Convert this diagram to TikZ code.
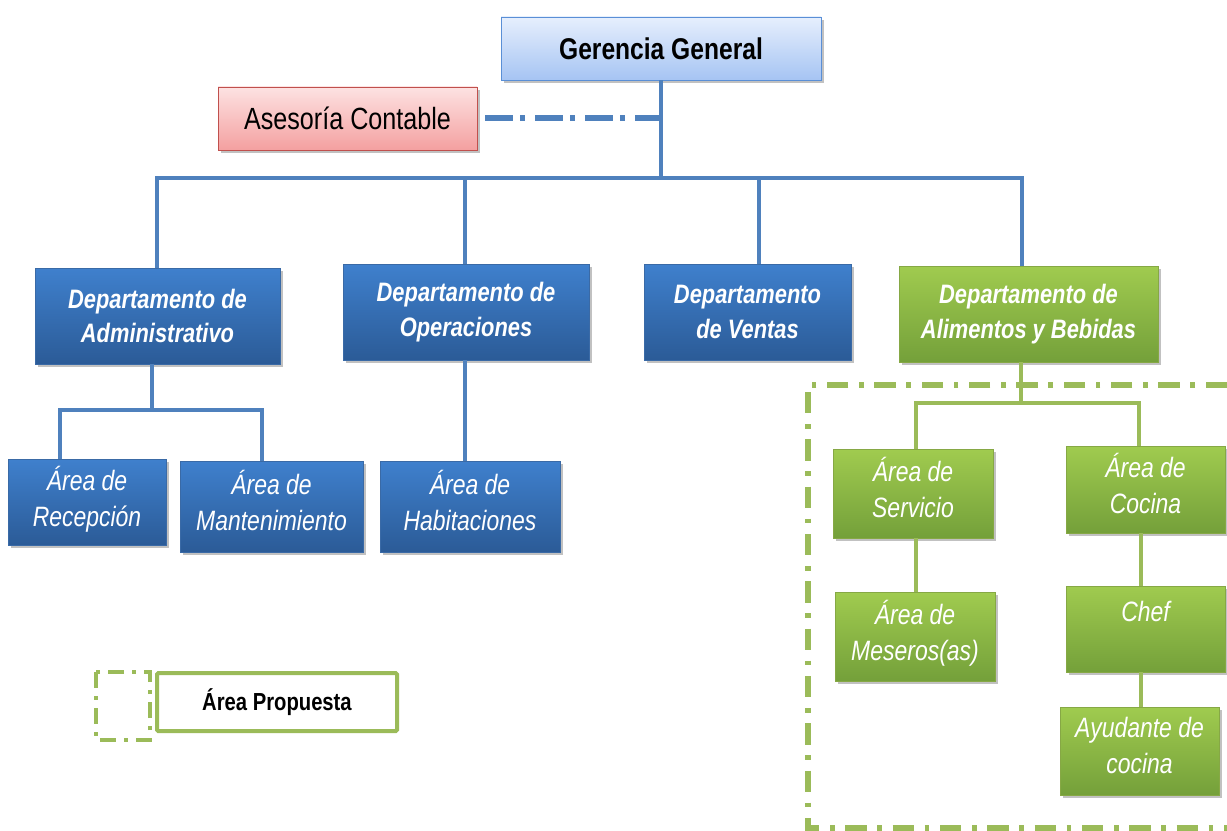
\documentclass[tikz,border=0pt]{standalone}
\usepackage{fontspec}
\newfontfamily\narrowfont[FakeStretch=0.82]{Liberation Sans}
\usetikzlibrary{shadows}

\definecolor{blueTop}{HTML}{3F80CD}
\definecolor{blueBot}{HTML}{2B5B97}
\definecolor{blueEdge}{HTML}{3A6AA6}
\definecolor{greenTop}{HTML}{A0CB4F}
\definecolor{greenBot}{HTML}{74A03A}
\definecolor{greenEdge}{HTML}{86A845}
\definecolor{ggTop}{HTML}{E6EFFD}
\definecolor{ggBot}{HTML}{A6C4F3}
\definecolor{ggEdge}{HTML}{5A8FD6}
\definecolor{redTop}{HTML}{FDE2E2}
\definecolor{redBot}{HTML}{F4A0A0}
\definecolor{redEdge}{HTML}{C0504D}
\definecolor{lineBlue}{HTML}{4F81BD}
\definecolor{lineGreen}{HTML}{9BBB59}

\begin{document}
\begin{tikzpicture}[x=0.75pt,y=-0.75pt,
  sz/.style 2 args={minimum width=#1*0.75pt, minimum height=#2*0.75pt},
  box/.style={draw, line width=0.6pt, align=center, inner sep=0pt,
    drop shadow={shadow xshift=2.5pt, shadow yshift=-2.5pt, opacity=0.35, fill=black!70}},
  bluebox/.style={box, draw=blueEdge, top color=blueTop, bottom color=blueBot, text=white},
  greenbox/.style={box, draw=greenEdge, top color=greenTop, bottom color=greenBot, text=white},
  dept/.style={font=\narrowfont\bfseries\itshape\fontsize{20}{26}\selectfont},
  area/.style={font=\narrowfont\itshape\fontsize{21}{27}\selectfont, text depth=9pt},
  bl/.style={draw=lineBlue, line width=3.7pt},
  gl/.style={draw=lineGreen, line width=3.5pt},
  proposed/.style={draw=lineGreen, line width=3.8pt, dash pattern=on 16pt off 8pt on 3.5pt off 8pt},
]
\useasboundingbox (0,0) rectangle (1227,831);

% proposed area frame (open to the right)
\draw[proposed] (1227,385) -- (808,385) -- (808,828) -- (1227,828);

% top level
\node[box, draw=ggEdge, top color=ggTop, bottom color=ggBot, sz={320}{63},
  font=\narrowfont\bfseries\fontsize{22.5}{27}\selectfont] (gg) at (661,48.5) {Gerencia General};
\node[box, draw=redEdge, top color=redTop, bottom color=redBot, sz={259}{63},
  font=\narrowfont\fontsize{23}{27}\selectfont] (ac) at (347.5,118.5) {Asesoría Contable};

% departments
\node[bluebox, dept, sz={245}{96}] (dadm) at (157.5,316) {Departamento de\\Administrativo};
\node[bluebox, dept, sz={246}{96}] (dops) at (466,312) {Departamento de\\Operaciones};
\node[bluebox, dept, sz={207}{96}] (dven) at (747.5,312) {Departamento\\de Ventas};
\node[greenbox, dept, sz={259}{96}] (dali) at (1028.5,314) {Departamento de\\Alimentos y Bebidas};

% areas
\node[bluebox, area, sz={158}{86}] (arec) at (87,502) {Área de\\Recepción};
\node[bluebox, area, sz={183}{91}] (aman) at (271.5,506.5) {Área de\\Mantenimiento};
\node[bluebox, area, sz={180}{91}] (ahab) at (470,506.5) {Área de\\Habitaciones};
\node[greenbox, area, sz={160}{89}] (aser) at (913,493.5) {Área de\\Servicio};
\node[greenbox, area, sz={159}{87}] (acoc) at (1145.5,489.5) {Área de\\Cocina};
\node[greenbox, area, sz={160}{89}] (ames) at (915,636.5) {Área de\\Meseros(as)};
\node[greenbox, area, sz={159}{86}, text depth=26pt] (chef) at (1145.5,629) {Chef};
\node[greenbox, area, sz={159}{88}] (ayu) at (1139.5,751) {Ayudante de\\cocina};

% junction points
\coordinate (busL) at (157,178);
\coordinate (busR) at (1022,178);
\coordinate (busV) at (759,178);
\coordinate (opsX) at (465,0);
\coordinate (admJ) at (152,410);
\coordinate (admL) at (60,410);
\coordinate (admR) at (262,410);
\coordinate (aliJ) at (1021,403);
\coordinate (aliL) at (916,403);
\coordinate (aliR) at (1139,403);
\coordinate (cocX) at (1141,0);

% blue connectors
\draw[bl] (gg.south) -- (gg.south |- busL);
\draw[bl] (dadm.north -| busL) |- (busR) -- (busR |- dali.north);
\draw[bl] (opsX |- busL) -- (opsX |- dops.north);
\draw[bl] (busV) -- (busV |- dven.north);
\draw[draw=lineBlue, line width=4.5pt, dash pattern=on 21pt off 5pt on 3.5pt off 8pt]
  ([xshift=6pt]ac.east) -- (ac.east -| gg.south);
\draw[bl] (dadm.south -| admJ) -- (admJ);
\draw[bl] (admL |- arec.north) |- (admR) -- (admR |- aman.north);
\draw[bl] (opsX |- dops.south) -- (opsX |- ahab.north);

% green connectors
\draw[gl] (dali.south -| aliJ) -- (aliJ);
\draw[gl] (aliL |- aser.north) |- (aliR) -- (aliR |- acoc.north);
\draw[gl] (aser.south -| aliL) -- (aliL |- ames.north);
\draw[gl] (acoc.south -| cocX) -- (cocX |- chef.north);
\draw[gl] (chef.south -| cocX) -- (cocX |- ayu.north);

% legend
\draw[draw=lineGreen, line width=3pt, dash pattern=on 12pt off 6pt on 3pt off 6pt]
  (96,672) rectangle (150,740);
\node[draw=lineGreen, line width=3pt, rounded corners=1pt, fill=white, sz={240}{58},
  font=\narrowfont\bfseries\fontsize{18.5}{22}\selectfont] (legend) at (277,702) {Área Propuesta};
\end{tikzpicture}
\end{document}
